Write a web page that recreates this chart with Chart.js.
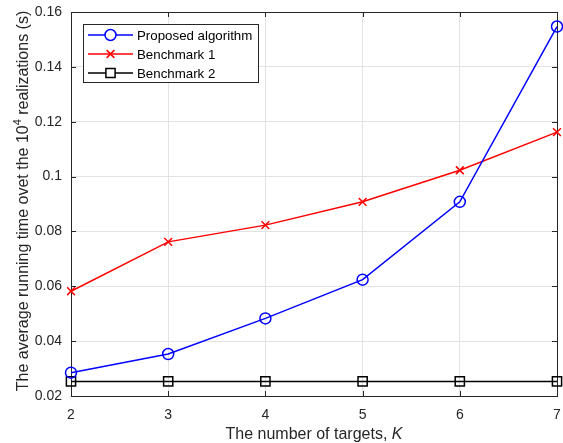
<!DOCTYPE html>
<html>
<head>
<meta charset="utf-8">
<script src="https://cdn.jsdelivr.net/npm/chart.js@4/dist/chart.umd.min.js"></script>
<style>
  html, body { margin: 0; padding: 0; background: #fff; }
  #wrap { width: 563px; height: 443px; }
</style>
</head>
<body>
<div id="wrap"><canvas id="runtimeChart" width="563" height="443"></canvas></div>
<script>
// values
const targets = [2, 3, 4, 5, 6, 7];
const proposed = [0.0285, 0.0353, 0.0483, 0.0624, 0.0908, 0.1547];
const benchmark1 = [0.0582, 0.0762, 0.0823, 0.0908, 0.1023, 0.1162];
const benchmark2 = [0.0253, 0.0253, 0.0253, 0.0253, 0.0253, 0.0253];
const seriesNames = ["Proposed algorithm", "Benchmark 1", "Benchmark 2"];
const yTicks = [0.02, 0.04, 0.06, 0.08, 0.1, 0.12, 0.14, 0.16];

const FONT = "'Liberation Sans', Arial, Helvetica, sans-serif";
const AXIS_COLOR = "#262626";

const toPoints = (ys) => targets.map((x, i) => ({ x: x, y: ys[i] }));

// frame with inward ticks like MATLAB's box on
const framePlugin = {
    id: "frame",
    beforeDatasetsDraw(chart) {
        const { ctx, chartArea: a, scales } = chart;
        ctx.save();
        ctx.strokeStyle = AXIS_COLOR;
        ctx.lineWidth = 1;
        ctx.strokeRect(Math.round(a.left) + 0.5, Math.round(a.top) + 0.5,
            Math.round(a.right - a.left), Math.round(a.bottom - a.top));
        const len = 5;
        ctx.beginPath();
        targets.forEach((t) => {
            const x = Math.round(scales.x.getPixelForValue(t)) + 0.5;
            ctx.moveTo(x, a.bottom); ctx.lineTo(x, a.bottom - len);
            ctx.moveTo(x, a.top); ctx.lineTo(x, a.top + len);
        });
        yTicks.forEach((v) => {
            const y = Math.round(scales.y.getPixelForValue(v)) + 0.5;
            ctx.moveTo(a.left, y); ctx.lineTo(a.left + len, y);
            ctx.moveTo(a.right, y); ctx.lineTo(a.right - len, y);
        });
        ctx.stroke();
        ctx.restore();
    }
};

// axis titles (superscript and italic need manual drawing)
const titlePlugin = {
    id: "axisTitles",
    afterDraw(chart) {
        const { ctx, chartArea: a } = chart;
        ctx.save();
        ctx.fillStyle = AXIS_COLOR;
        ctx.textBaseline = "alphabetic";

        // x title
        const p1 = "The number of targets, ";
        ctx.font = "16px " + FONT;
        const w1 = ctx.measureText(p1).width;
        ctx.font = "italic 16px " + FONT;
        const w2 = ctx.measureText("K").width;
        let x0 = (a.left + a.right) / 2 - (w1 + w2) / 2;
        ctx.font = "16px " + FONT;
        ctx.fillText(p1, x0, 439);
        ctx.font = "italic 16px " + FONT;
        ctx.fillText("K", x0 + w1, 439);

        // y title, rotated
        const parts = [
            { t: "The average running time ovet the 10", f: "16px " + FONT, dy: 0 },
            { t: "4", f: "11px " + FONT, dy: -7 },
            { t: " realizations (s)", f: "16px " + FONT, dy: 0 }
        ];
        let total = 0;
        parts.forEach((p) => { ctx.font = p.f; p.w = ctx.measureText(p.t).width; total += p.w; });
        ctx.translate(28, (a.top + a.bottom) / 2 - 3);
        ctx.rotate(-Math.PI / 2);
        let x = -total / 2;
        parts.forEach((p) => {
            ctx.font = p.f;
            ctx.fillText(p.t, x, p.dy);
            x += p.w;
        });
        ctx.restore();
    }
};

// MATLAB-style legend: line with marker, box in the top-left corner
const legendPlugin = {
    id: "matlabLegend",
    afterDraw(chart) {
        const { ctx } = chart;
        const box = { x: 83.5, y: 24.5, w: 175, h: 58 };
        ctx.save();
        ctx.fillStyle = "#fff";
        ctx.fillRect(box.x, box.y, box.w, box.h);
        ctx.strokeStyle = AXIS_COLOR;
        ctx.lineWidth = 1;
        ctx.strokeRect(box.x, box.y, box.w, box.h);
        ctx.font = "13.3px " + FONT;
        ctx.textBaseline = "middle";
        chart.data.datasets.forEach((ds, i) => {
            const y = 35 + i * 19;
            ctx.strokeStyle = ds.borderColor;
            ctx.lineWidth = ds.borderWidth;
            ctx.beginPath();
            ctx.moveTo(88, y); ctx.lineTo(133, y);
            ctx.stroke();
            ctx.fillStyle = "#fff";
            ctx.lineWidth = ds.pointBorderWidth;
            Chart.helpers.drawPoint(ctx, {
                pointStyle: ds.pointStyle,
                radius: ds.pointRadius,
                borderWidth: ds.pointBorderWidth,
                rotation: 0
            }, 110.5, y);
            ctx.fillStyle = "#000";
            ctx.fillText(ds.label, 137, y + 1);
        });
        ctx.restore();
    }
};

const noScalePadding = (s) => {
    s.paddingLeft = 0; s.paddingRight = 0; s.paddingTop = 0; s.paddingBottom = 0;
};

const ctx = document.getElementById("runtimeChart").getContext("2d");
new Chart(ctx, {
    type: "line",
    data: {
        datasets: [
            {
                label: seriesNames[0],
                data: toPoints(proposed),
                borderColor: "#0000ff",
                backgroundColor: "rgba(0,0,0,0)",
                borderWidth: 1.5,
                pointStyle: "circle",
                pointRadius: 5.5,
                pointBorderWidth: 1.5,
                pointBackgroundColor: "rgba(0,0,0,0)",
                pointBorderColor: "#0000ff",
                clip: false
            },
            {
                label: seriesNames[1],
                data: toPoints(benchmark1),
                borderColor: "#ff0000",
                backgroundColor: "rgba(0,0,0,0)",
                borderWidth: 1.5,
                pointStyle: "crossRot",
                pointRadius: 5.5,
                pointBorderWidth: 1.5,
                pointBorderColor: "#ff0000",
                clip: false
            },
            {
                label: seriesNames[2],
                data: toPoints(benchmark2),
                borderColor: "#000000",
                backgroundColor: "rgba(0,0,0,0)",
                borderWidth: 1.5,
                pointStyle: "rect",
                pointRadius: 6.5,
                pointBorderWidth: 1.5,
                pointBackgroundColor: "rgba(0,0,0,0)",
                pointBorderColor: "#000000",
                clip: false
            }
        ]
    },
    options: {
        responsive: false,
        animation: false,
        layout: { autoPadding: false, padding: { left: 0, right: 6, top: 12, bottom: 0 } },
        plugins: {
            legend: { display: false },
            tooltip: { enabled: false }
        },
        scales: {
            x: {
                type: "linear",
                min: 2,
                max: 7,
                afterFit: (s) => { s.height = 47; noScalePadding(s); },
                afterBuildTicks: (s) => { s.ticks = targets.map((v) => ({ value: v })); },
                grid: { color: "#e3e3e3", drawTicks: false },
                border: { display: false },
                ticks: {
                    padding: 11,
                    color: AXIS_COLOR,
                    font: { family: FONT, size: 14 },
                    callback: (v) => String(v)
                }
            },
            y: {
                type: "linear",
                min: 0.02,
                max: 0.16,
                afterFit: (s) => { s.width = 71; noScalePadding(s); },
                afterBuildTicks: (s) => { s.ticks = yTicks.map((v) => ({ value: v })); },
                grid: { color: "#e3e3e3", drawTicks: false },
                border: { display: false },
                ticks: {
                    padding: 9,
                    color: AXIS_COLOR,
                    font: { family: FONT, size: 14 },
                    callback: (v) => String(+v.toFixed(2))
                }
            }
        }
    },
    plugins: [framePlugin, titlePlugin, legendPlugin]
});
</script>
</body>
</html>
